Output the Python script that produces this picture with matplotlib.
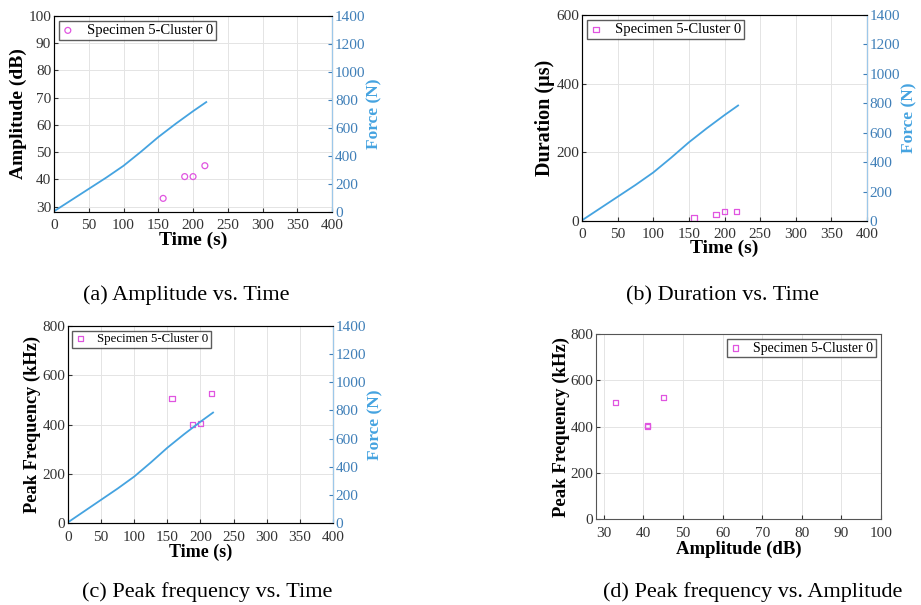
import matplotlib.pyplot as plt
import numpy as np

plt.rcParams['font.family'] = ['Liberation Serif', 'DejaVu Serif']

# force curve (right axis)
force_t = [0, 25, 50, 75, 100, 125, 150, 175, 200, 219]
force_n = [5, 85, 165, 245, 330, 430, 535, 630, 720, 785]

# AE hits of Specimen 5 - Cluster 0
hit_t = [157, 188, 200, 217]
hit_amp = [33, 41, 41, 45]
hit_dur = [9, 19, 27, 27]
hit_pf = [505, 400, 405, 525]

label = 'Specimen 5-Cluster 0'
blue = '#45a3e0'
axis_blue = '#3f7fb8'
mag = '#e055e0'

fig = plt.figure(figsize=(9.21, 6.05), dpi=100)


def style(ax, xpad):
    ax.grid(True, color='#e4e4e4', linewidth=0.7)
    ax.set_axisbelow(True)
    ax.tick_params(labelsize=11, colors='#333333', direction='in', length=3, pad=2)
    ax.tick_params(axis='x', pad=xpad)
    for s in ax.spines.values():
        s.set_color('#555555')
        s.set_linewidth(0.8)


def add_force(ax):
    ax2 = ax.twinx()
    ax2.plot(force_t, force_n, color=blue, linewidth=1.3)
    ax2.set_ylim(0, 1400)
    ax2.set_yticks(range(0, 1401, 200))
    ax2.tick_params(axis='y', colors=axis_blue, labelsize=11, direction='in', length=3, pad=2)
    ax2.spines['right'].set_color('#9cc8ea')
    ax2.set_ylabel('Force (N)', color=blue, fontweight='bold', fontsize=12.5, labelpad=1)
    return ax2


def legend(ax, loc, size):
    ax.legend(loc=loc, fontsize=size, frameon=True, fancybox=False, edgecolor='#333333',
              handlelength=0.8, handletextpad=0.9, borderpad=0.2, borderaxespad=0.35)


# (a)
ax = fig.add_axes([0.0586, 0.6496, 0.302, 0.324])
style(ax, 5)
ax.scatter(hit_t, hit_amp, s=18, facecolors='none', edgecolors=mag, linewidths=0.9, label=label, zorder=3)
ax.set_xlim(0, 400)
ax.set_ylim(28, 100)
ax.set_yticks(range(30, 101, 10))
ax.set_xticks(range(0, 401, 50))
ax.set_xlabel('Time (s)', fontweight='bold', fontsize=14, labelpad=0)
ax.set_ylabel('Amplitude (dB)', fontweight='bold', fontsize=14, labelpad=1)
legend(ax, 'upper left', 10.5)
add_force(ax)

# (b)
ax = fig.add_axes([0.632, 0.6347, 0.3094, 0.3405])
style(ax, 5)
ax.scatter(hit_t, hit_dur, s=14, marker='s', facecolors='none', edgecolors=mag, linewidths=0.9, label=label, zorder=3)
ax.set_xlim(0, 400)
ax.set_ylim(0, 600)
ax.set_yticks(range(0, 601, 200))
ax.set_xticks(range(0, 401, 50))
ax.set_xlabel('Time (s)', fontweight='bold', fontsize=14, labelpad=-1)
ax.set_ylabel('Duration (µs)', fontweight='bold', fontsize=14.5, labelpad=1)
legend(ax, 'upper left', 10.5)
add_force(ax)

# (c)
ax = fig.add_axes([0.0738, 0.1355, 0.2877, 0.3256])
style(ax, 5.5)
ax.scatter(hit_t, hit_pf, s=14, marker='s', facecolors='none', edgecolors=mag, linewidths=0.9, label=label, zorder=3)
ax.set_xlim(0, 400)
ax.set_ylim(0, 800)
ax.set_yticks(range(0, 801, 200))
ax.set_xticks(range(0, 401, 50))
ax.set_xlabel('Time (s)', fontweight='bold', fontsize=13, labelpad=0)
ax.set_ylabel('Peak Frequency (kHz)', fontweight='bold', fontsize=13.2, labelpad=1)
legend(ax, 'upper left', 9.3)
add_force(ax)

# (d)
ax = fig.add_axes([0.6471, 0.1421, 0.3094, 0.3058])
style(ax, 6)
ax.scatter(hit_amp, hit_pf, s=14, marker='s', facecolors='none', edgecolors=mag, linewidths=0.9, label=label, zorder=3)
ax.set_xlim(28, 100)
ax.set_ylim(0, 800)
ax.set_yticks(range(0, 801, 200))
ax.set_xticks(range(30, 101, 10))
ax.set_xlabel('Amplitude (dB)', fontweight='bold', fontsize=13.5, labelpad=0)
ax.set_ylabel('Peak Frequency (kHz)', fontweight='bold', fontsize=13.5, labelpad=0)
legend(ax, 'upper right', 10)

captions = ['(a) Amplitude vs. Time', '(b) Duration vs. Time',
            '(c) Peak frequency vs. Time', '(d) Peak frequency vs. Amplitude']
cap_pos = [(0.202, 0.504), (0.784, 0.504), (0.225, 0.0132), (0.8176, 0.0132)]
for txt, (x, y) in zip(captions, cap_pos):
    fig.text(x, y, txt, ha='center', va='baseline', fontsize=16)

fig.savefig('out.png', dpi=100)
